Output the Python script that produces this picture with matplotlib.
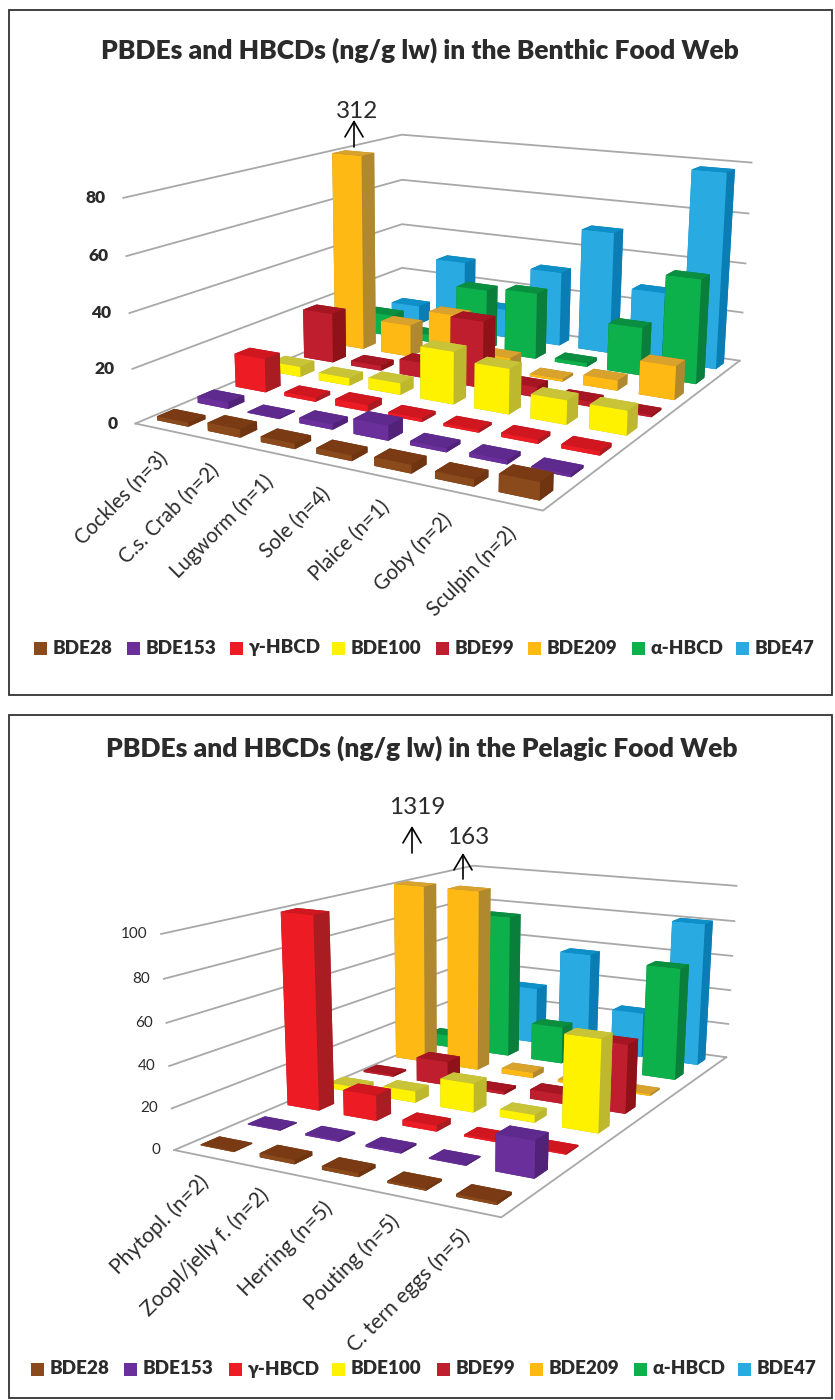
import numpy as np
import matplotlib
matplotlib.use('Agg')
import matplotlib.pyplot as plt
from matplotlib.patches import Rectangle
from mpl_toolkits.mplot3d import proj3d

plt.rcParams['font.family'] = ['Lato', 'DejaVu Sans']

W, H = 835, 1400
TEXT = '#2b2b2b'
GRID = '#a8a8a8'
BOLD = 'heavy'

series_names = ['BDE28', 'BDE153', 'γ-HBCD', 'BDE100', 'BDE99', 'BDE209', 'α-HBCD', 'BDE47']

# face colours of each series: front, right side, top
front_cols = ['#8a4a1c', '#6b2f9b', '#ed1c24', '#fff200', '#be1e2d', '#ffb914', '#0db14b', '#29abe2']
side_cols = ['#6e3510', '#512278', '#a81c22', '#bdb82e', '#8e1218', '#b0892e', '#0a7f3c', '#0a7db5']
top_cols = ['#7a3a14', '#5f2a8e', '#d0161e', '#c9c437', '#a51522', '#d9a22c', '#0a8f40', '#0e8fc8']

benthic_cats = ['Cockles (n=3)', 'C.s. Crab (n=2)', 'Lugworm (n=1)', 'Sole (n=4)',
                'Plaice (n=1)', 'Goby (n=2)', 'Sculpin (n=2)']
benthic_bde28 = [1.5, 3, 2, 2, 3, 2.5, 6]
benthic_bde153 = [2.5, 0.4, 2, 5.5, 1.5, 1.5, 1]
benthic_ghbcd = [13, 1.5, 2.5, 1.3, 1, 1.5, 1.5]
benthic_bde100 = [4, 3, 4.5, 20, 17, 9, 9]
benthic_bde99 = [20, 2, 6, 26, 4, 2, 0.8]
benthic_bde209 = [312, 13, 20, 6, 1, 4, 13]
benthic_ahbcd = [9, 3, 25.5, 27, 1.5, 19, 41]
benthic_bde47 = [8, 30, 12, 31, 50, 28, 78]
benthic_ticks = [0, 20, 40, 60, 80]

pelagic_cats = ['Phytopl. (n=2)', 'Zoopl/jelly f. (n=2)', 'Herring (n=5)',
                'Pouting (n=5)', 'C. tern eggs (n=5)']
pelagic_bde28 = [0.5, 2, 1.8, 1, 1.3]
pelagic_bde153 = [0.5, 1, 1, 0.5, 17.5]
pelagic_ghbcd = [99, 13, 3, 1, 0.7]
pelagic_bde100 = [3, 6, 15, 4, 47]
pelagic_bde99 = [1, 13, 1.5, 5, 36]
pelagic_bde209 = [1319, 163, 3, 1.5, 1]
pelagic_ahbcd = [7, 81, 21, 2, 62]
pelagic_bde47 = [20, 33, 57, 26, 81]
pelagic_ticks = [0, 20, 40, 60, 80, 100]

legend_swatch_top = [34, 127, 230, 332, 436, 528, 632, 736]
legend_swatch_bot = [31, 124, 229, 332, 437, 530, 634, 738]

# sideways offset of each series row on the pelagic floor
pelagic_lean = [-0.03, -0.04, -0.11, -0.08, -0.12, -0.15, -0.12, -0.1]

# camera of each panel, in pixels of the figure and floor sizes in camera heights
benthic_cam = dict(elev=15.212, azim=-59.737, roll=-0.008, f=1463.65, px=419.8, py=327.6,
                   cx=1.9821, cy=-2.2129, a=0.9455, b=1.0895, c=0.4790)
pelagic_cam = dict(elev=16.264, azim=-62.702, roll=-0.648, f=1341.39, px=501.9, py=1083.7,
                   cx=1.9688, cy=-2.2056, a=0.8326, b=1.4003, c=0.4922)


def make_axes(fig, cam, n_cats, zmax):
    side = 1000
    frac = 0.95 / 1.85
    ax = fig.add_axes([(cam['px'] - side * frac) / W, (H - cam['py'] - side * frac) / H, side / W, side / H],
                      projection='3d', computed_zorder=False)
    ax.set_axis_off()
    ax.patch.set_visible(False)
    ax.view_init(elev=cam['elev'], azim=cam['azim'], roll=cam['roll'])
    el = np.deg2rad(cam['elev'])
    az = np.deg2rad(cam['azim'])
    # floor point on the optical axis becomes the centre of the 3d box
    gx = cam['cx'] - np.cos(az) / np.tan(el)
    gy = cam['cy'] - np.sin(az) / np.tan(el)
    e = cam['f'] * 0.185 / side
    world = 10 * e * np.sin(el)
    ax.set_proj_type('persp', focal_length=e)
    ax.set_box_aspect((1, 1, 1), zoom=world / (1.8294640721620434 * 25 / 24 / np.sqrt(3)))
    nx, ny = n_cats, len(series_names)
    ax.set_xlim(nx * (gx - 0.5) / cam['a'], nx * (gx + 0.5) / cam['a'], view_margin=0)
    ax.set_ylim(ny * (gy - 0.5) / cam['b'], ny * (gy + 0.5) / cam['b'], view_margin=0)
    ax.set_zlim(-0.5 * zmax / cam['c'], 0.5 * zmax / cam['c'], view_margin=0)
    return ax


def draw_walls(ax, n_cats, ticks):
    ny = len(series_names)
    for t in ticks:
        ax.plot([0, 0, n_cats], [0, ny, ny], [t, t, t], color=GRID, lw=1.3, zorder=1)
    ax.plot([0, n_cats, n_cats], [0, 0, ny], [0, 0, 0], color=GRID, lw=1.3, zorder=1)


def draw_bars(ax, values, zmax, gap_x, gap_y, lean=None):
    n_series = len(values)
    n_cats = len(values[0])
    for j in range(n_series):
        for i in range(n_cats):
            # bars taller than the axis stop at its top
            height = min(values[j][i], zmax)
            shift = lean[j] * (1 - 0.12 * i) if lean else 0
            cols = [side_cols[j], top_cols[j], front_cols[j], side_cols[j], side_cols[j], side_cols[j]]
            bar = ax.bar3d(i + 0.5 + shift - gap_x / 2, j + 0.5 - gap_y / 2, 0, gap_x, gap_y, height,
                           color=cols, shade=False, edgecolor='none', linewidth=0)
            bar.set_zorder(10 + (n_series - j) * 100 + i)


def draw_labels(ax, cats, ticks, bold, nudge, tick_gap, cat_size):
    M = ax.get_proj()
    for t in ticks:
        x2, y2, _ = proj3d.proj_transform(0, 0, t, M)
        ax.annotate(str(t), (x2, y2), xytext=(-tick_gap, 0), textcoords='offset pixels', ha='right', va='center',
                    fontsize=12.5 if bold else 11, fontweight=BOLD if bold else 'normal', color=TEXT, zorder=5000)
    for i, name in enumerate(cats):
        x2, y2, _ = proj3d.proj_transform(i + 0.5, 0, 0, M)
        ax.annotate(name, (x2, y2), xytext=nudge, textcoords='offset pixels',
                    rotation=45, rotation_mode='anchor', ha='right', va='top', fontsize=cat_size, color=TEXT,
                    zorder=5000)


def draw_legend(ov, xs, y):
    for k, name in enumerate(series_names):
        ov.add_patch(Rectangle((xs[k], y - 6.5), 13, 13, color=front_cols[k], lw=0))
        ov.text(xs[k] + 18.5, y, name, fontsize=13.6, fontweight=BOLD, color=TEXT, ha='left', va='center')


def draw_cut_label(ov, label, x, y0, y1, tx, ty):
    ov.annotate('', xy=(x, y1), xytext=(x, y0),
                arrowprops=dict(arrowstyle='->,head_length=1.1,head_width=0.65', color='black', lw=1.2,
                                shrinkA=0, shrinkB=0))
    ov.text(tx, ty, label, fontsize=17.5, color=TEXT, ha='center', va='center')


fig = plt.figure(figsize=(W / 100, H / 100), dpi=100)

benthic = [benthic_bde28, benthic_bde153, benthic_ghbcd, benthic_bde100,
           benthic_bde99, benthic_bde209, benthic_ahbcd, benthic_bde47]
ax1 = make_axes(fig, benthic_cam, len(benthic_cats), benthic_ticks[-1])
draw_walls(ax1, len(benthic_cats), benthic_ticks)
draw_bars(ax1, benthic, benthic_ticks[-1], 0.62, 0.42)
draw_labels(ax1, benthic_cats, benthic_ticks, True, (-3, -20), 18, 14.8)

pelagic = [pelagic_bde28, pelagic_bde153, pelagic_ghbcd, pelagic_bde100,
           pelagic_bde99, pelagic_bde209, pelagic_ahbcd, pelagic_bde47]
ax2 = make_axes(fig, pelagic_cam, len(pelagic_cats), pelagic_ticks[-1])
draw_walls(ax2, len(pelagic_cats), pelagic_ticks)
draw_bars(ax2, pelagic, pelagic_ticks[-1], 0.57, 0.38, pelagic_lean)
draw_labels(ax2, pelagic_cats, pelagic_ticks, False, (-5, -16), 14, 15.2)

# overlay in figure pixels for frames, titles, legends and the cut-bar labels
ov = fig.add_axes([0, 0, 1, 1], zorder=10)
ov.set_xlim(0, W)
ov.set_ylim(H, 0)
ov.axis('off')
ov.add_patch(Rectangle((8.5, 10), 823.5, 685, fill=False, ec='#333333', lw=1.3))
ov.add_patch(Rectangle((8.5, 715), 823.5, 683, fill=False, ec='#333333', lw=1.3))
ov.text(420, 50, 'PBDEs and HBCDs (ng/g lw) in the Benthic Food Web', fontsize=19, fontweight=BOLD,
        color=TEXT, ha='center', va='center')
ov.text(421.5, 748, 'PBDEs and HBCDs (ng/g lw) in the Pelagic Food Web', fontsize=19, fontweight=BOLD,
        color=TEXT, ha='center', va='center')
draw_legend(ov, legend_swatch_top, 648)
draw_legend(ov, legend_swatch_bot, 1369)
draw_cut_label(ov, str(benthic_bde209[0]), 354, 147, 120, 357, 112)
draw_cut_label(ov, str(pelagic_bde209[0]), 412, 853, 826, 417, 807)
draw_cut_label(ov, str(pelagic_bde209[1]), 463, 879, 853, 468, 837)

fig.savefig('out.png', dpi=100)
